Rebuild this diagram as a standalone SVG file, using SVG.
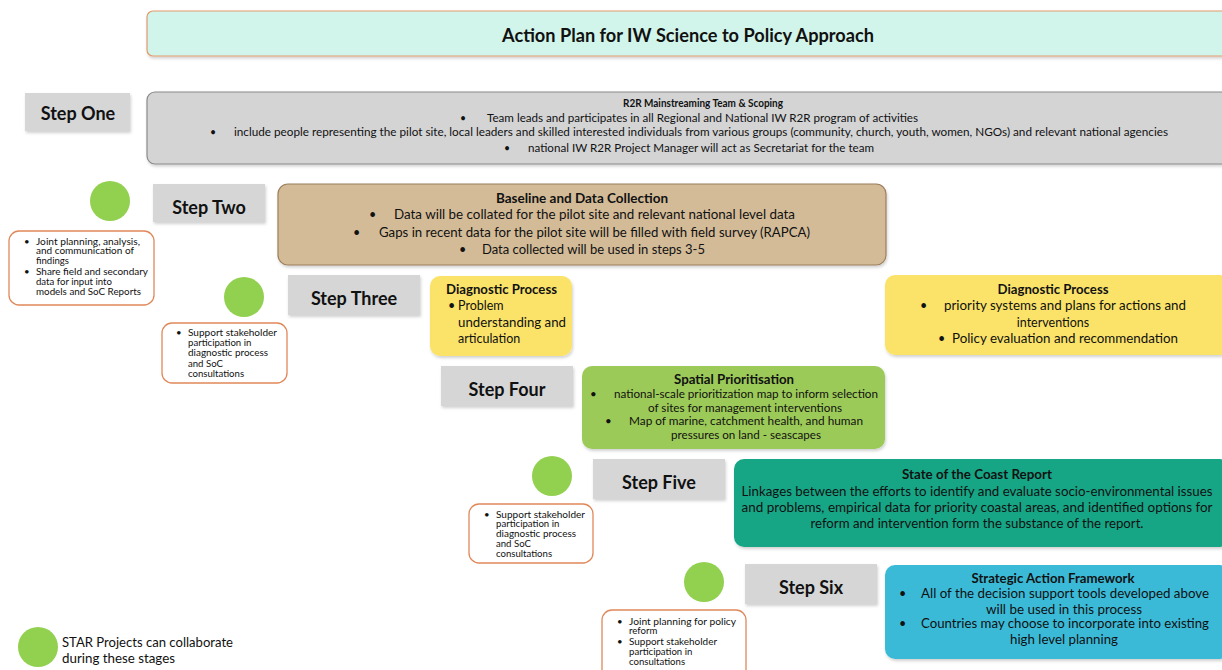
<svg xmlns="http://www.w3.org/2000/svg" width="1222" height="670" viewBox="0 0 1222 670">
<defs>
<filter id="sh" x="-5%" y="-10%" width="110%" height="130%">
<feDropShadow dx="1" dy="2" stdDeviation="1.5" flood-color="#000" flood-opacity="0.18"/>
</filter>
<style>
text{font-family:Lato,"Open Sans","Liberation Sans",sans-serif;fill:#111;dominant-baseline:central}
.step{fill:#d6d6d7;filter:url(#sh)}
.stept{font-size:18px;font-weight:bold;text-anchor:middle}
.c{text-anchor:middle}
.b{font-weight:bold}
.m{font-size:12.5px}
.sm{font-size:11.5px}
.h{font-size:13.5px;font-weight:bold}
.s1{font-size:10.5px}
.note{fill:#fff;stroke:#e0885a;stroke-width:1.3}
.nt{font-size:9.6px}
.dot{fill:#92d050}
</style>
</defs>
<rect width="1222" height="670" fill="#fff"/>

<g id="title">
<rect x="147" y="11" width="1085" height="45" rx="6" fill="#d2f5eb" stroke="#e39a6c" stroke-width="1.2" filter="url(#sh)"/>
<text x="688" y="35" class="c b" font-size="18" textLength="372" lengthAdjust="spacingAndGlyphs">Action Plan for IW Science to Policy Approach</text>
</g>

<g id="step1">
<rect class="step" x="25" y="93" width="105" height="38"/>
<text class="stept" x="78" y="113">Step One</text>
</g>
<g id="box1">
<rect x="147" y="92" width="1085" height="72" rx="8" fill="#d4d4d5" stroke="#8a8a8a" stroke-width="1.2" filter="url(#sh)"/>
<text class="c b s1" x="703" y="103" textLength="160" lengthAdjust="spacingAndGlyphs">R2R Mainstreaming Team &amp; Scoping</text>
<text class="s1" x="460" y="118">•</text>
<text class="s1" x="487" y="118" textLength="431" lengthAdjust="spacingAndGlyphs">Team leads and participates in all Regional and National IW R2R program of activities</text>
<text class="s1" x="210" y="132">•</text>
<text class="s1" x="234" y="132" textLength="934" lengthAdjust="spacingAndGlyphs">include people representing the pilot site, local leaders and skilled interested individuals from various groups (community, church, youth, women, NGOs) and relevant national agencies</text>
<text class="s1" x="504" y="148">•</text>
<text class="s1" x="528" y="148" textLength="346" lengthAdjust="spacingAndGlyphs">national IW R2R Project Manager will act as Secretariat for the team</text>
</g>

<g id="collab2">
<circle class="dot" cx="110" cy="201" r="20"/>
<rect class="note" x="9" y="231" width="145" height="74" rx="10"/>
<text class="nt" x="24" y="241">•</text>
<text class="nt" x="36" y="241" textLength="104" lengthAdjust="spacingAndGlyphs">Joint planning, analysis,</text>
<text class="nt" x="36" y="250" textLength="98" lengthAdjust="spacingAndGlyphs">and communication of</text>
<text class="nt" x="36" y="260">findings</text>
<text class="nt" x="24" y="271">•</text>
<text class="nt" x="36" y="271" textLength="112" lengthAdjust="spacingAndGlyphs">Share field and secondary</text>
<text class="nt" x="36" y="281">data for input into</text>
<text class="nt" x="36" y="291" textLength="105" lengthAdjust="spacingAndGlyphs">models and SoC Reports</text>
</g>

<g id="step2">
<rect class="step" x="153" y="184" width="112" height="38"/>
<text class="stept" x="209" y="207">Step Two</text>
</g>
<g id="box2">
<rect x="278" y="184" width="608" height="81" rx="10" fill="#d3bb98" stroke="#9c7f5c" stroke-width="1.2" filter="url(#sh)"/>
<text class="c h" x="582" y="198">Baseline and Data Collection</text>
<text class="m" x="369" y="214">•</text>
<text class="m" x="394" y="214" textLength="401" lengthAdjust="spacingAndGlyphs">Data will be collated for the pilot site and relevant national level data</text>
<text class="m" x="353" y="232">•</text>
<text class="m" x="379" y="232" textLength="431" lengthAdjust="spacingAndGlyphs">Gaps in recent data for the pilot site will be filled with field survey (RAPCA)</text>
<text class="m" x="459" y="249">•</text>
<text class="m" x="482" y="249" textLength="223" lengthAdjust="spacingAndGlyphs">Data collected will be used in steps 3-5</text>
</g>

<g id="collab3">
<circle class="dot" cx="244" cy="297" r="20"/>
<rect class="note" x="162" y="323" width="125" height="60" rx="10"/>
<text class="nt" x="176" y="332">•</text>
<text class="nt" x="188" y="332" textLength="89" lengthAdjust="spacingAndGlyphs">Support stakeholder</text>
<text class="nt" x="188" y="342">participation in</text>
<text class="nt" x="188" y="352" textLength="80" lengthAdjust="spacingAndGlyphs">diagnostic process</text>
<text class="nt" x="188" y="363">and SoC</text>
<text class="nt" x="188" y="373">consultations</text>
</g>

<g id="step3">
<rect class="step" x="288" y="275" width="132" height="40"/>
<text class="stept" x="354" y="298">Step Three</text>
</g>
<g id="diag1">
<rect x="430" y="276" width="142" height="80" rx="10" fill="#fbe36a" filter="url(#sh)"/>
<text class="h" x="446" y="289" textLength="111" lengthAdjust="spacingAndGlyphs">Diagnostic Process</text>
<text class="m" x="448" y="305">•</text>
<text class="m" x="458" y="305">Problem</text>
<text class="m" x="458" y="322" textLength="108" lengthAdjust="spacingAndGlyphs">understanding and</text>
<text class="m" x="458" y="338">articulation</text>
</g>
<g id="diag2">
<rect x="885" y="275" width="345" height="80" rx="10" fill="#fbe36a" filter="url(#sh)"/>
<text class="c h" x="1053" y="289" textLength="111" lengthAdjust="spacingAndGlyphs">Diagnostic Process</text>
<text class="m" x="920" y="305">•</text>
<text class="m" x="944" y="305" textLength="242" lengthAdjust="spacingAndGlyphs">priority systems and plans for actions and</text>
<text class="c m" x="1053" y="322">interventions</text>
<text class="m" x="938" y="338">•</text>
<text class="m" x="952" y="338" textLength="226" lengthAdjust="spacingAndGlyphs">Policy evaluation and recommendation</text>
</g>

<g id="step4">
<rect class="step" x="441" y="366" width="132" height="40"/>
<text class="stept" x="507" y="389">Step Four</text>
</g>
<g id="spatial">
<rect x="582" y="366" width="303" height="83" rx="10" fill="#9cca59" filter="url(#sh)"/>
<text class="c b" font-size="12.5" x="734" y="379" textLength="120" lengthAdjust="spacingAndGlyphs">Spatial Prioritisation</text>
<text class="sm" x="590" y="393">•</text>
<text class="sm" x="614" y="393" textLength="264" lengthAdjust="spacingAndGlyphs">national-scale prioritization map to inform selection</text>
<text class="c sm" x="745" y="407" textLength="194" lengthAdjust="spacingAndGlyphs">of sites for management interventions</text>
<text class="sm" x="605" y="420">•</text>
<text class="sm" x="629" y="420" textLength="234" lengthAdjust="spacingAndGlyphs">Map of marine, catchment health, and human</text>
<text class="c sm" x="746" y="434" textLength="150" lengthAdjust="spacingAndGlyphs">pressures on land - seascapes</text>
</g>

<g id="collab5">
<circle class="dot" cx="552" cy="476" r="20"/>
<rect class="note" x="469" y="504" width="124" height="59" rx="10"/>
<text class="nt" x="484" y="514">•</text>
<text class="nt" x="496" y="514" textLength="89" lengthAdjust="spacingAndGlyphs">Support stakeholder</text>
<text class="nt" x="496" y="523">participation in</text>
<text class="nt" x="496" y="533" textLength="80" lengthAdjust="spacingAndGlyphs">diagnostic process</text>
<text class="nt" x="496" y="543">and SoC</text>
<text class="nt" x="496" y="553">consultations</text>
</g>

<g id="step5">
<rect class="step" x="593" y="459" width="132" height="40"/>
<text class="stept" x="659" y="482">Step Five</text>
</g>
<g id="soc">
<rect x="734" y="459" width="496" height="88" rx="10" fill="#18a686" filter="url(#sh)"/>
<text class="c h" x="977" y="474" textLength="150" lengthAdjust="spacingAndGlyphs">State of the Coast Report</text>
<text class="c m" x="977" y="491" textLength="471" lengthAdjust="spacingAndGlyphs">Linkages between the efforts to identify and evaluate socio-environmental issues</text>
<text class="c m" x="977" y="507" textLength="471" lengthAdjust="spacingAndGlyphs">and problems, empirical data for priority coastal areas, and identified options for</text>
<text class="c m" x="977" y="523" textLength="333" lengthAdjust="spacingAndGlyphs">reform and intervention form the substance of the report.</text>
</g>

<g id="collab6">
<circle class="dot" cx="704" cy="582" r="20"/>
<rect class="note" x="602" y="610" width="144" height="70" rx="10"/>
<text class="nt" x="617" y="621">•</text>
<text class="nt" x="629" y="621" font-size="9" textLength="107" lengthAdjust="spacingAndGlyphs">Joint planning for policy</text>
<text class="nt" x="629" y="630" font-size="9">reform</text>
<text class="nt" x="617" y="641">•</text>
<text class="nt" x="629" y="641" font-size="9" textLength="88" lengthAdjust="spacingAndGlyphs">Support stakeholder</text>
<text class="nt" x="629" y="651" font-size="9">participation in</text>
<text class="nt" x="629" y="661" font-size="9">consultations</text>
</g>

<g id="step6">
<rect class="step" x="745" y="564" width="132" height="40"/>
<text class="stept" x="811" y="587">Step Six</text>
</g>
<g id="saf">
<rect x="885" y="565" width="345" height="94" rx="10" fill="#3bbad8" filter="url(#sh)"/>
<text class="c h" x="1053" y="578" textLength="163" lengthAdjust="spacingAndGlyphs">Strategic Action Framework</text>
<text class="m" x="899" y="593">•</text>
<text class="m" x="921" y="593" textLength="288" lengthAdjust="spacingAndGlyphs">All of the decision support tools developed above</text>
<text class="c m" x="1064" y="609" textLength="156" lengthAdjust="spacingAndGlyphs">will be used in this process</text>
<text class="m" x="899" y="623">•</text>
<text class="m" x="921" y="623" textLength="288" lengthAdjust="spacingAndGlyphs">Countries may choose to incorporate into existing</text>
<text class="c m" x="1064" y="639" textLength="108" lengthAdjust="spacingAndGlyphs">high level planning</text>
</g>

<g id="legend">
<circle class="dot" cx="38" cy="647" r="20"/>
<text x="62" y="642" font-size="12.5" textLength="171" lengthAdjust="spacingAndGlyphs">STAR Projects can collaborate</text>
<text x="62" y="658" font-size="12.5" textLength="113" lengthAdjust="spacingAndGlyphs">during these stages</text>
</g>

<g id="connectors"/>
</svg>
